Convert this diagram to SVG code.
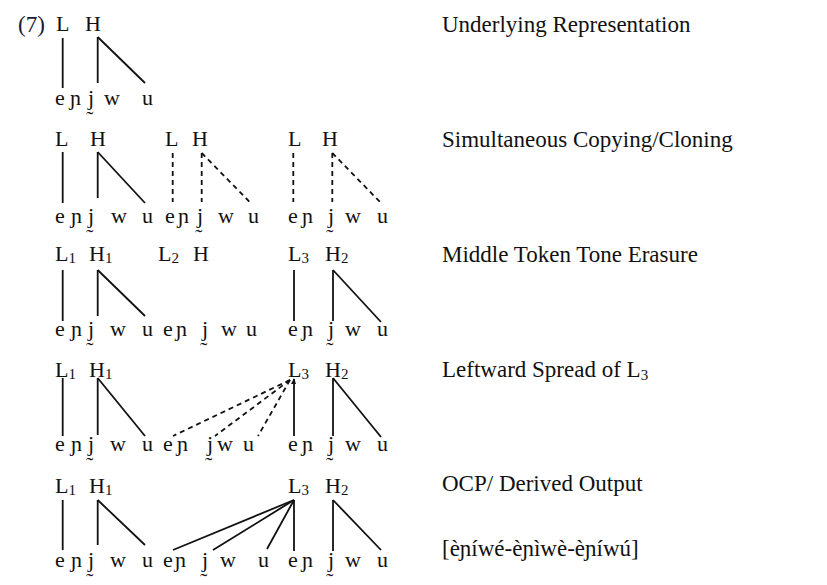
<svg xmlns="http://www.w3.org/2000/svg" width="827" height="585" viewBox="0 0 827 585">
<style>
text{font-family:"Liberation Serif","Times New Roman",serif;font-size:22px;fill:#111}
.s{font-size:15px}
.lbl{font-size:23px}
line{stroke:#111;stroke-width:1.8;stroke-linecap:butt}
.d{stroke-dasharray:5 4}
</style>
<rect width="827" height="585" fill="#fff"/>
<g id="row1">
<text x="18" y="32" class="lbl" style="fill:#1a1a33">(7)</text>
<text x="56" y="31">L</text><text x="85" y="31">H</text>
<text x="55" y="105">e</text><text x="70" y="105">ɲ</text><text x="88" y="105">j̰</text><text x="104" y="105">w</text><text x="142" y="105">u</text>
<text x="442" y="32" class="lbl">Underlying Representation</text>
</g>
<g id="row2">
<text x="55" y="146">L</text><text x="90" y="146">H</text>
<text x="165" y="146">L</text><text x="192" y="146">H</text>
<text x="288" y="146">L</text><text x="322" y="146">H</text>
<text x="55" y="223">e</text><text x="71" y="223">ɲ</text><text x="88" y="223">j̰</text><text x="111" y="223">w</text><text x="142" y="223">u</text>
<text x="165" y="223">e</text><text x="178" y="223">ɲ</text><text x="197" y="223">j̰</text><text x="218" y="223">w</text><text x="248" y="223">u</text>
<text x="288" y="223">e</text><text x="302" y="223">ɲ</text><text x="328" y="223">j̰</text><text x="345" y="223">w</text><text x="377" y="223">u</text>
<text x="442" y="147" class="lbl">Simultaneous Copying/Cloning</text>
</g>
<g id="row3">
<text x="55" y="261">L<tspan class="s" dy="2">1</tspan></text>
<text x="89" y="261">H<tspan class="s" dy="2">1</tspan></text>
<text x="158" y="261">L<tspan class="s" dy="2">2</tspan></text>
<text x="193" y="261">H</text>
<text x="288" y="261">L<tspan class="s" dy="2">3</tspan></text>
<text x="325" y="261">H<tspan class="s" dy="2">2</tspan></text>
<text x="55" y="336">e</text><text x="71" y="336">ɲ</text><text x="88" y="336">j̰</text><text x="110" y="336">w</text><text x="142" y="336">u</text>
<text x="163" y="336">e</text><text x="176" y="336">ɲ</text><text x="202" y="336">j̰</text><text x="221" y="336">w</text><text x="246" y="336">u</text>
<text x="288" y="336">e</text><text x="302" y="336">ɲ</text><text x="328" y="336">j̰</text><text x="345" y="336">w</text><text x="377" y="336">u</text>
<text x="442" y="262" class="lbl">Middle Token Tone Erasure</text>
</g>
<g id="row4">
<text x="55" y="377">L<tspan class="s" dy="2">1</tspan></text>
<text x="89" y="377">H<tspan class="s" dy="2">1</tspan></text>
<text x="288" y="377">L<tspan class="s" dy="2">3</tspan></text>
<text x="325" y="377">H<tspan class="s" dy="2">2</tspan></text>
<text x="55" y="451">e</text><text x="71" y="451">ɲ</text><text x="88" y="451">j̰</text><text x="110" y="451">w</text><text x="142" y="451">u</text>
<text x="163" y="451">e</text><text x="177" y="451">ɲ</text><text x="207" y="451">j̰</text><text x="217" y="451">w</text><text x="243" y="451">u</text>
<text x="288" y="451">e</text><text x="302" y="451">ɲ</text><text x="328" y="451">j̰</text><text x="345" y="451">w</text><text x="377" y="451">u</text>
<text x="442" y="377" class="lbl">Leftward Spread of L<tspan class="s" dy="3">3</tspan></text>
</g>
<g id="row5">
<text x="55" y="493">L<tspan class="s" dy="2">1</tspan></text>
<text x="89" y="493">H<tspan class="s" dy="2">1</tspan></text>
<text x="288" y="493">L<tspan class="s" dy="2">3</tspan></text>
<text x="325" y="493">H<tspan class="s" dy="2">2</tspan></text>
<text x="55" y="567">e</text><text x="71" y="567">ɲ</text><text x="88" y="567">j̰</text><text x="110" y="567">w</text><text x="142" y="567">u</text>
<text x="163" y="567">e</text><text x="175" y="567">ɲ</text><text x="202" y="567">j̰</text><text x="220" y="567">w</text><text x="258" y="567">u</text>
<text x="288" y="567">e</text><text x="302" y="567">ɲ</text><text x="328" y="567">j̰</text><text x="345" y="567">w</text><text x="377" y="567">u</text>
<text x="442" y="491" class="lbl">OCP/ Derived Output</text>
<text x="442" y="556" class="lbl">[èɲíwé-èɲìwè-èɲíwú]</text>
</g>
<g id="connectors">
<line x1="62.7" y1="38" x2="62.7" y2="88"/>
<line x1="97.7" y1="37" x2="97.7" y2="83"/>
<line x1="97.7" y1="37" x2="145" y2="83"/>

<line x1="62.7" y1="152" x2="62.7" y2="203"/>
<line x1="97.7" y1="152" x2="97.7" y2="198"/>
<line x1="97.7" y1="152" x2="145" y2="203"/>
<line class="d" x1="172.7" y1="153" x2="172.7" y2="202"/>
<line class="d" x1="201.7" y1="153" x2="201.7" y2="202"/>
<line class="d" x1="201.7" y1="153" x2="250.7" y2="203"/>
<line class="d" x1="293.3" y1="153" x2="293.3" y2="202"/>
<line class="d" x1="332.3" y1="153" x2="332.3" y2="202"/>
<line class="d" x1="332.3" y1="153" x2="381" y2="203"/>

<line x1="62.7" y1="270" x2="62.7" y2="321"/>
<line x1="97.7" y1="270" x2="97.7" y2="316"/>
<line x1="97.7" y1="270" x2="145" y2="316"/>
<line x1="294" y1="270" x2="294" y2="321"/>
<line x1="333" y1="270" x2="333" y2="321"/>
<line x1="333" y1="270" x2="381" y2="322"/>

<line x1="62.7" y1="378" x2="62.7" y2="436"/>
<line x1="97.7" y1="378" x2="97.7" y2="435"/>
<line x1="97.7" y1="378" x2="145" y2="436"/>
<line x1="294" y1="379" x2="294" y2="436"/>
<polygon points="291,384 294,378 296,384" fill="#111"/>
<line class="d" x1="290" y1="380" x2="173" y2="436"/>
<line class="d" x1="290" y1="380" x2="215" y2="436"/>
<line class="d" x1="290" y1="380" x2="258" y2="436"/>
<line x1="333" y1="378" x2="333" y2="436"/>
<line x1="333" y1="378" x2="381" y2="437"/>

<line x1="62.7" y1="500" x2="62.7" y2="550"/>
<line x1="97.7" y1="500" x2="97.7" y2="545"/>
<line x1="97.7" y1="500" x2="145" y2="545"/>
<line x1="294" y1="500" x2="173" y2="550"/>
<line x1="294" y1="500" x2="213" y2="550"/>
<line x1="294" y1="500" x2="267" y2="549"/>
<line x1="294" y1="500" x2="294" y2="551"/>
<line x1="333" y1="500" x2="333" y2="551"/>
<line x1="333" y1="500" x2="381" y2="550"/>
</g>
</svg>
